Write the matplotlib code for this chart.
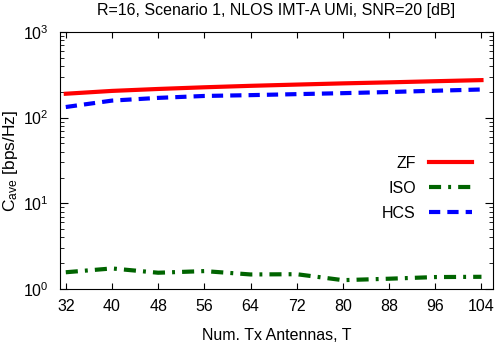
import matplotlib
matplotlib.use("Agg")
import matplotlib.pyplot as plt
import numpy as np

plt.rcParams['font.family'] = ['Liberation Sans', 'DejaVu Sans']
plt.rcParams['mathtext.fontset'] = 'custom'
plt.rcParams['mathtext.rm'] = 'Liberation Sans'
plt.rcParams['mathtext.it'] = 'Liberation Sans'

# data
antennas = [32, 40, 48, 56, 64, 72, 80, 88, 96, 104]
c_zf = [190, 205, 216, 226, 235, 243, 251, 258, 266, 274]
c_iso = [1.57, 1.74, 1.55, 1.62, 1.48, 1.49, 1.27, 1.32, 1.38, 1.39]
c_hcs = [133, 158, 170, 179, 183, 188, 193, 199, 206, 213]
x_ticks = [32, 40, 48, 56, 64, 72, 80, 88, 96, 104]

fs = 11.5

fig = plt.figure(figsize=(4.98, 3.47), dpi=100)
ax = fig.add_axes([0.1205, 0.167, 0.8695, 0.741])

ax.plot(antennas, c_zf, color="#ff0000", lw=3, label="ZF")
ax.plot(antennas, c_iso, color="#006400", lw=3, dashes=(2.9, 1.7, 0.7, 1.7), label="ISO")
ax.plot(antennas, c_hcs, color="#0000ff", lw=3, dashes=(2.7, 1.7), label="HCS")

ax.set_yscale("log")
ax.set_ylim(1, 1000)
ax.set_xlim(31, 106)
ax.set_xticks(x_ticks)
ax.tick_params(axis="both", which="both", direction="in", top=True, right=True, labelsize=fs)
ax.tick_params(axis="x", which="major", length=4, pad=7)
ax.tick_params(axis="y", which="major", length=6, pad=8)
ax.tick_params(axis="y", which="minor", length=3)

ax.set_xlabel("Num. Tx Antennas, T", fontsize=fs, labelpad=10)
ax.set_ylabel(r"C$_{\mathrm{ave}}$ [bps/Hz]", fontsize=fs + 1, labelpad=2)
ax.set_title("R=16, Scenario 1, NLOS IMT-A UMi, SNR=20 [dB]", fontsize=fs, pad=12)

ax.legend(loc="upper right", bbox_to_anchor=(0.984, 0.574), frameon=False,
          markerfirst=False, fontsize=fs, handlelength=2.7, labelspacing=0.62,
          handletextpad=0.8)

fig.savefig("out.png", dpi=100)
